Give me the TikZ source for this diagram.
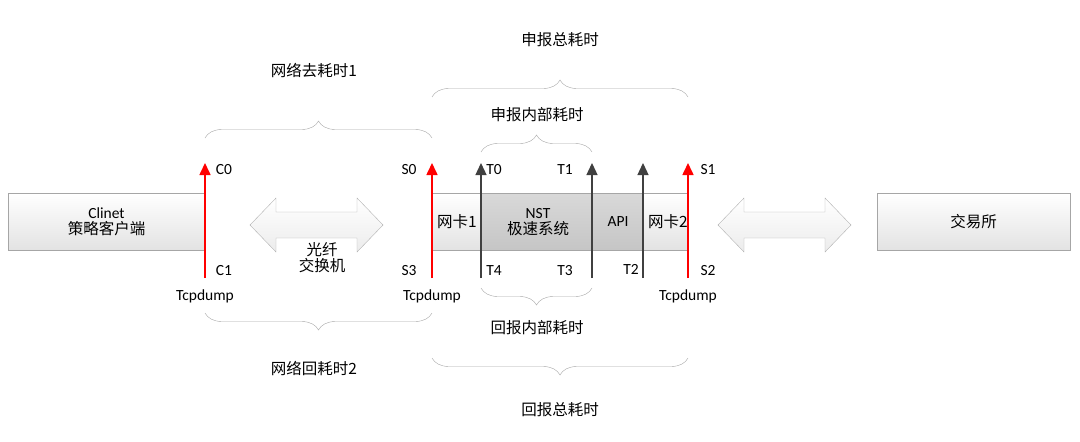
\documentclass[tikz,border=0pt]{standalone}
\usepackage{fontspec}
\setmainfont{Carlito}
\newfontfamily\cjk{Noto Sans CJK SC}
\usetikzlibrary{decorations.pathreplacing,arrows.meta}
\begin{document}
\begin{tikzpicture}[x=1pt,y=-1pt,font=\fontsize{15.5}{18}\selectfont,
 box/.style={draw=gray!70,top color=white,bottom color=gray!22,minimum height=57pt,inner sep=0pt},
 dark/.style={draw=gray!70,top color=gray!30,bottom color=gray!45,minimum height=57pt,inner sep=0pt},
 dbl/.style={draw=gray!60,top color=white,bottom color=gray!15},
 red/.style={draw=red,line width=1.6pt,-{Triangle[length=12pt,width=11pt]}},
 blk/.style={draw=black!75,line width=1.3pt,-{Triangle[length=12pt,width=11pt]}},
 br/.style={draw=gray!70,decorate,decoration={brace,amplitude=17pt}},
 brm/.style={draw=gray!70,decorate,decoration={brace,amplitude=17pt,mirror}},
 lbl/.style={inner sep=0pt}]
\useasboundingbox (0,0) rectangle (1080,442);
\node[box,minimum width=197pt] (cli) at (106.5,221.5) {};
\node[lbl,align=center] (clit) at (106.5,221.5) {Clinet\\[-2pt]{\cjk 策略客户端}};
\node[box,minimum width=193pt] (ex) at (973.5,221.5) {{\cjk 交易所}};
\node[box,minimum width=256pt] (mid) at (560,221.5) {};
\node[dark,minimum width=162pt] (nst) at (562,221.5) {};
\draw[gray!70] (592,193) -- (592,250);
\node[lbl,align=center] (nstt) at (538,222) {NST\\[-2pt]{\cjk 极速系统}};
\node[lbl] (api) at (618,222) {API};
\node[lbl] (nk1) at (457,222) {{\cjk 网卡1}};
\node[lbl] (nk2) at (668,222) {{\cjk 网卡2}};
\draw[dbl] (250,225) -- (276,198) -- (276,212) -- (357,212) -- (357,198) -- (383,225) -- (357,252) -- (357,238) -- (276,238) -- (276,252) -- cycle;
\draw[dbl] (718,225) -- (744,198) -- (744,212) -- (825,212) -- (825,198) -- (851,225) -- (825,252) -- (825,238) -- (744,238) -- (744,252) -- cycle;
\node[lbl,align=center] (a1t) at (322,258) {{\cjk 光纤}\\[-2pt]{\cjk 交换机}};
\foreach \n/\x in {c/205,s/432,ss/688,t0/481,t1/592,t2/643}{
 \coordinate (\n b) at (\x,278); \coordinate (\n t) at (\x,163);}
\draw[red] (cb) -- (ct);
\draw[red] (sb) -- (st);
\draw[red] (ssb) -- (sst);
\draw[blk] (t0b) -- (t0t);
\draw[blk] (t1b) -- (t1t);
\draw[blk] (t2b) -- (t2t);
\node[lbl] (C0) at (224,170) {C0};
\node[lbl] (C1) at (224,271) {C1};
\node[lbl] (S0) at (409,170) {S0};
\node[lbl] (S3) at (409,271) {S3};
\node[lbl] (T0) at (494,170) {T0};
\node[lbl] (T4) at (494,271) {T4};
\node[lbl] (T1) at (565,170) {T1};
\node[lbl] (T3) at (565,271) {T3};
\node[lbl] (T2) at (631,269) {T2};
\node[lbl] (S1) at (708,170) {S1};
\node[lbl] (S2) at (708,271) {S2};
\node[lbl] (td1) at (205,296) {Tcpdump};
\node[lbl] (td2) at (432,296) {Tcpdump};
\node[lbl] (td3) at (688,296) {Tcpdump};
% braces
\draw[br] (205,138) -- (432,138);
\node[lbl] (b1) at (314,70) {{\cjk 网络去耗时1}};
\draw[br] (432,97) -- (688,97);
\node[lbl] (b2) at (560,40) {{\cjk 申报总耗时}};
\draw[br] (481,152) -- (592,152);
\node[lbl] (b3) at (537,115) {{\cjk 申报内部耗时}};
\draw[brm] (481,288) -- (592,288);
\node[lbl] (b4) at (537,328) {{\cjk 回报内部耗时}};
\draw[brm] (205,313) -- (432,313);
\node[lbl] (b5) at (314,368) {{\cjk 网络回耗时2}};
\draw[brm] (432,358) -- (688,358);
\node[lbl] (b6) at (560,410) {{\cjk 回报总耗时}};
\end{tikzpicture}
\end{document}
